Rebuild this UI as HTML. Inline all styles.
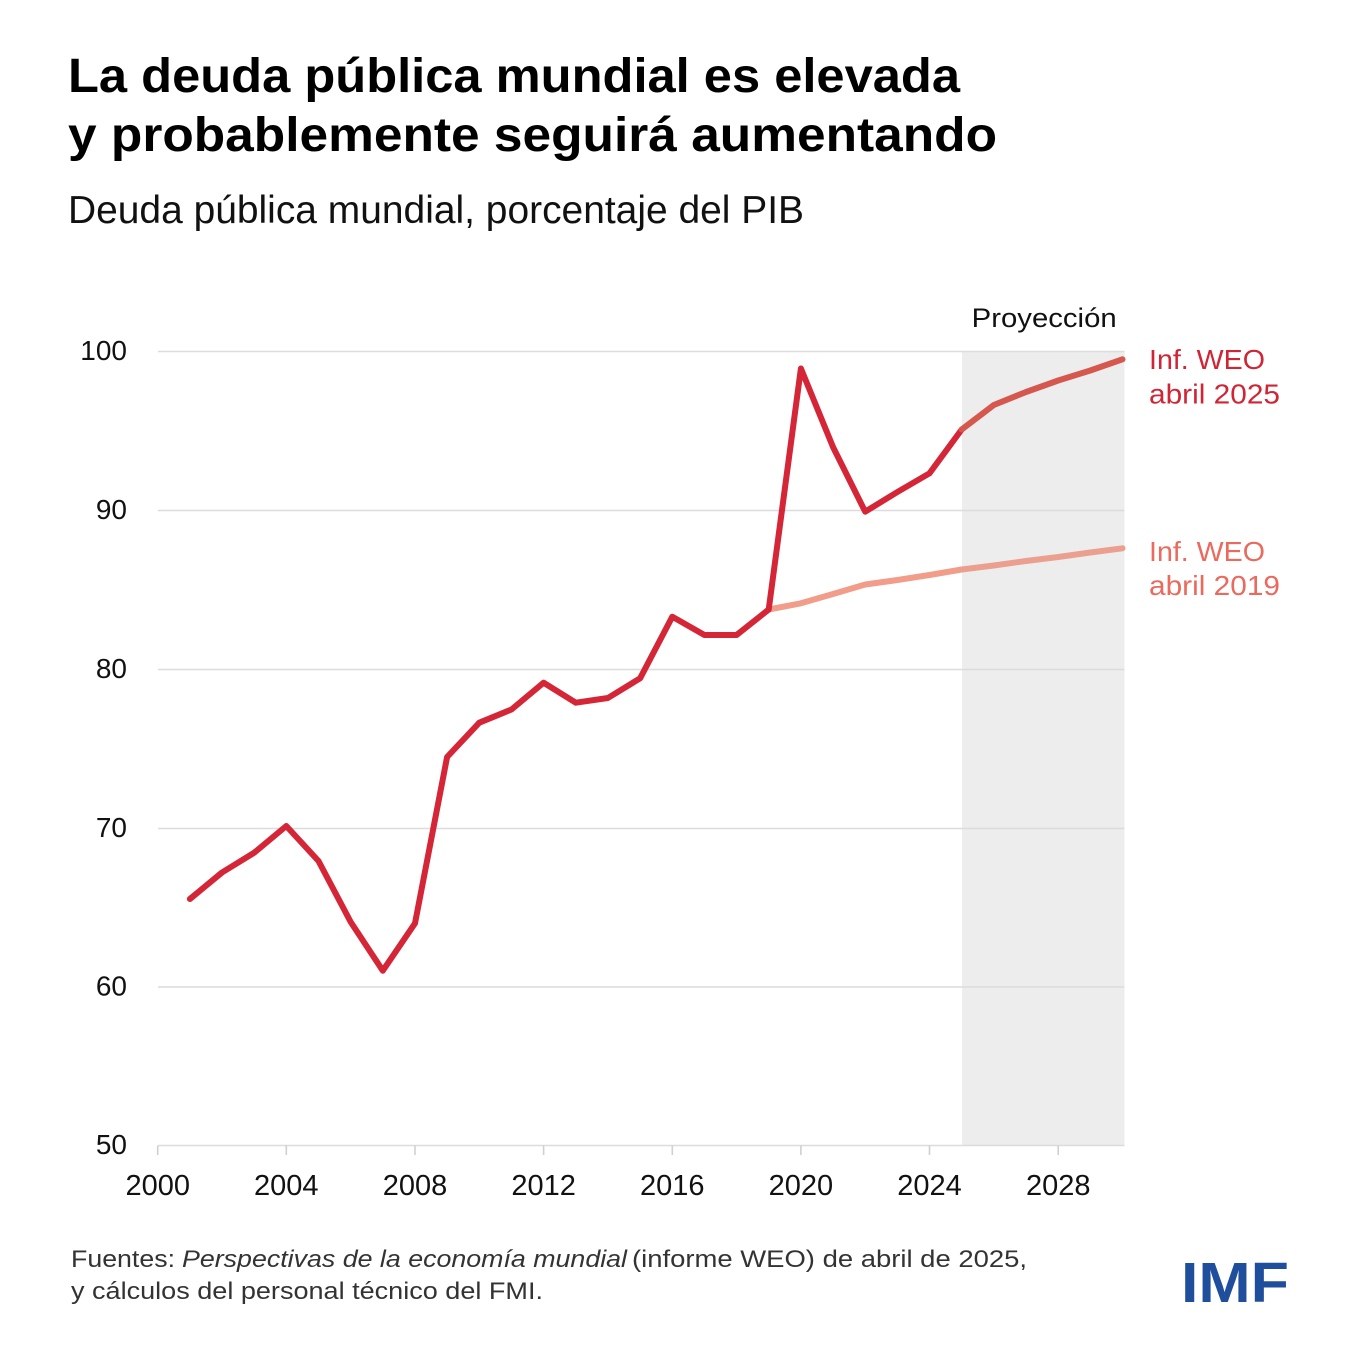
<!DOCTYPE html>
<html>
<head>
<meta charset="utf-8">
<style>
html,body{margin:0;padding:0;background:#fff;}
svg{display:block;}
text{font-family:"Liberation Sans", sans-serif;}
</style>
</head>
<body>
<svg width="1354" height="1354" viewBox="0 0 1354 1354" xmlns="http://www.w3.org/2000/svg">
<rect width="1354" height="1354" fill="#fff"/>
<!-- Title -->
<text x="68" y="92" font-size="48" font-weight="bold" fill="#000" textLength="892" lengthAdjust="spacingAndGlyphs">La deuda pública mundial es elevada</text>
<text x="68" y="151" font-size="48" font-weight="bold" fill="#000" textLength="929" lengthAdjust="spacingAndGlyphs">y probablemente seguirá aumentando</text>
<text x="68" y="223" font-size="39" fill="#111" textLength="736" lengthAdjust="spacingAndGlyphs">Deuda pública mundial, porcentaje del PIB</text>

<!-- Projection shading -->
<rect x="962" y="351.5" width="162.5" height="794" fill="#ededed"/>

<!-- Gridlines -->
<g stroke="#dcdcdc" stroke-width="1.6">
<line x1="158" y1="351.5" x2="1124.5" y2="351.5"/>
<line x1="158" y1="510.5" x2="1124.5" y2="510.5"/>
<line x1="158" y1="669.5" x2="1124.5" y2="669.5"/>
<line x1="158" y1="828.5" x2="1124.5" y2="828.5"/>
<line x1="158" y1="987" x2="1124.5" y2="987"/>
<line x1="158" y1="1145.5" x2="1124.5" y2="1145.5"/>
</g>
<!-- x ticks -->
<g stroke="#d0d0d0" stroke-width="1.6">
<line x1="157.7" y1="1145.5" x2="157.7" y2="1155"/>
<line x1="286.3" y1="1145.5" x2="286.3" y2="1155"/>
<line x1="415" y1="1145.5" x2="415" y2="1155"/>
<line x1="543.6" y1="1145.5" x2="543.6" y2="1155"/>
<line x1="672.3" y1="1145.5" x2="672.3" y2="1155"/>
<line x1="800.9" y1="1145.5" x2="800.9" y2="1155"/>
<line x1="929.5" y1="1145.5" x2="929.5" y2="1155"/>
<line x1="1058.2" y1="1145.5" x2="1058.2" y2="1155"/>
</g>

<!-- Y labels -->
<g font-size="28" fill="#111" text-anchor="end">
<text x="127" y="360">100</text>
<text x="127" y="519">90</text>
<text x="127" y="678">80</text>
<text x="127" y="837">70</text>
<text x="127" y="995.5">60</text>
<text x="127" y="1154">50</text>
</g>
<!-- X labels -->
<g font-size="29" fill="#111" text-anchor="middle">
<text x="157.7" y="1195">2000</text>
<text x="286.3" y="1195">2004</text>
<text x="415" y="1195">2008</text>
<text x="543.6" y="1195">2012</text>
<text x="672.3" y="1195">2016</text>
<text x="800.9" y="1195">2020</text>
<text x="929.5" y="1195">2024</text>
<text x="1058.2" y="1195">2028</text>
</g>

<!-- 2019 WEO series -->
<polyline fill="none" stroke="#f29c8a" stroke-width="6" stroke-linejoin="round" stroke-linecap="round"
points="768.7,609.5 800.9,603.3 833,594 865.2,584.5 897.4,580 929.5,575 961.7,569.5"/>
<polyline fill="none" stroke="#eba08f" stroke-width="6" stroke-linejoin="round" stroke-linecap="round"
points="961.7,569.5 993.8,565.5 1026,561 1058.2,557 1090.3,552.5 1122.5,548.3"/>

<!-- 2025 WEO series -->
<polyline fill="none" stroke="#d42637" stroke-width="6" stroke-linejoin="round" stroke-linecap="round"
points="189.9,899 222,872.5 254.2,852.7 286.3,826 318.5,861 350.7,922 382.8,970.7 415,923.3 447.1,757 479.3,722.7 511.5,709.5 543.6,682.7 575.8,702.7 607.9,698 640.1,678.3 672.3,616.7 704.4,635 736.6,635 768.7,609.5 800.9,368.5 833,447 865.2,511.7 897.4,492 929.5,473.3 961.7,429.5"/>
<polyline fill="none" stroke="#d5574e" stroke-width="6" stroke-linejoin="round" stroke-linecap="round"
points="961.7,429.5 993.8,405 1026,392 1058.2,380.5 1090.3,370.5 1122.5,359.3"/>

<!-- Labels -->
<text x="971.7" y="327" font-size="27" fill="#111" textLength="145" lengthAdjust="spacingAndGlyphs">Proyección</text>
<text x="1149" y="369" font-size="28" fill="#cf2535" textLength="116" lengthAdjust="spacingAndGlyphs">Inf. WEO</text>
<text x="1149" y="403.5" font-size="28" fill="#cf2535" textLength="131" lengthAdjust="spacingAndGlyphs">abril 2025</text>
<text x="1149" y="561" font-size="28" fill="#ea6a5d" textLength="116" lengthAdjust="spacingAndGlyphs">Inf. WEO</text>
<text x="1149" y="595" font-size="28" fill="#ea6a5d" textLength="131" lengthAdjust="spacingAndGlyphs">abril 2019</text>

<!-- Footer -->
<text x="71" y="1267" font-size="24" fill="#333" textLength="104" lengthAdjust="spacingAndGlyphs">Fuentes:</text>
<text x="182" y="1267" font-size="24" font-style="italic" fill="#333" textLength="445" lengthAdjust="spacingAndGlyphs">Perspectivas de la economía mundial</text>
<text x="632" y="1267" font-size="24" fill="#333" textLength="395" lengthAdjust="spacingAndGlyphs">(informe WEO) de abril de 2025,</text>
<text x="71" y="1299" font-size="24" fill="#333" textLength="472" lengthAdjust="spacingAndGlyphs">y cálculos del personal técnico del FMI.</text>

<!-- IMF logo -->
<text x="1181" y="1302" font-size="57" font-weight="bold" fill="#1f4e9c" textLength="108" lengthAdjust="spacingAndGlyphs">IMF</text>
</svg>
</body>
</html>
